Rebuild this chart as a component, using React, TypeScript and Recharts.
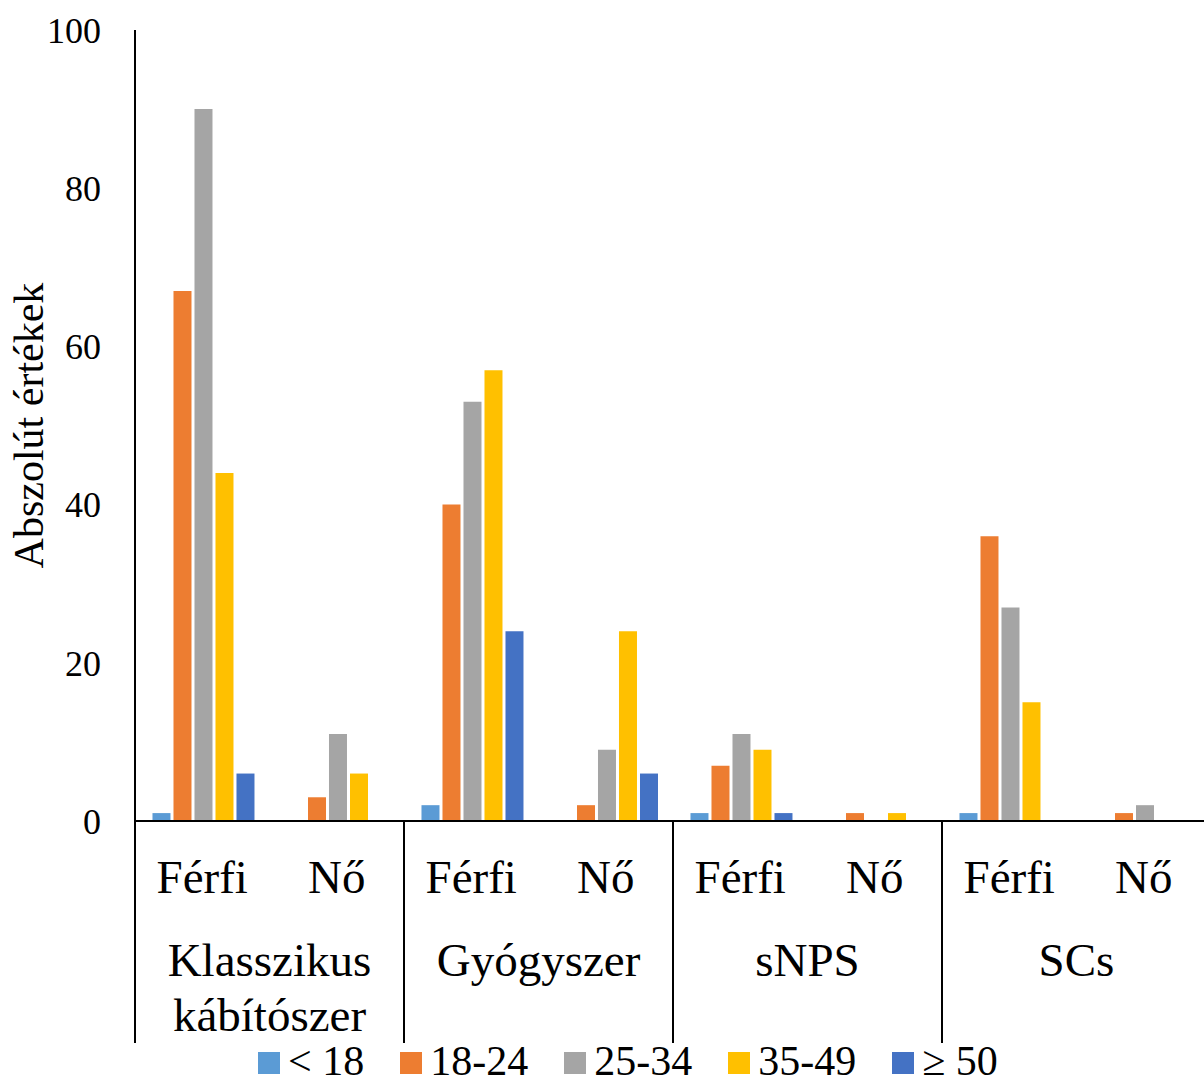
import { BarChart, Bar, XAxis, YAxis, Legend } from 'recharts'

const groups = ['Klasszikus kábítószer', 'Gyógyszer', 'sNPS', 'SCs']
const sexes = ['Férfi', 'Nő']

const seriesNames = ['< 18', '18-24', '25-34', '35-49', '≥ 50']
const seriesColors = ['#5B9BD5', '#ED7D31', '#A5A5A5', '#FFC000', '#4472C4']

// order: Klasszikus F, N, Gyógyszer F, N, sNPS F, N, SCs F, N
const under18 = [1, 0, 2, 0, 1, 0, 1, 0]
const age18to24 = [67, 3, 40, 2, 7, 1, 36, 1]
const age25to34 = [90, 11, 53, 9, 11, 0, 27, 2]
const age35to49 = [44, 6, 57, 24, 9, 1, 15, 0]
const age50plus = [6, 0, 24, 6, 1, 0, 0, 0]

const yTicks = [0, 20, 40, 60, 80, 100]

const seriesValues = [under18, age18to24, age25to34, age35to49, age50plus]
const seriesKeys = ['s0', 's1', 's2', 's3', 's4']

const data = groups.flatMap((group, gi) =>
  sexes.map((sex, si) => {
    const row: Record<string, string | number> = { group, sex }
    seriesKeys.forEach((k, i) => {
      row[k] = seriesValues[i][gi * 2 + si]
    })
    return row
  })
)

const W = 1204
const H = 1083
const PLOT_LEFT = 135
const PLOT_RIGHT = 1211
const PLOT_TOP = 30
const PLOT_BOTTOM = 821
const SEP_BOTTOM = 1043
const GROUP_W = (PLOT_RIGHT - PLOT_LEFT) / groups.length
const FONT = "'Liberation Serif', 'Times New Roman', serif"
const serif = { fontFamily: FONT }

const YTick = (props: any) => {
  const { x, y, payload } = props
  return (
    <text x={x} y={y} dy="0.355em" textAnchor="end" fontSize={36} style={serif} fill="#000">
      {payload.value}
    </text>
  )
}

const SexTick = (props: any) => {
  const { x, payload } = props
  return (
    <text x={x} y={893} textAnchor="middle" fontSize={47} style={serif} fill="#000">
      {payload.value}
    </text>
  )
}

const GroupTick = (props: any) => {
  const { x, payload } = props
  const lines = String(payload.value).split(' ')
  const left = x - GROUP_W / 2
  return (
    <g>
      <line x1={left} x2={left} y1={PLOT_BOTTOM} y2={SEP_BOTTOM} stroke="#000" strokeWidth={2} />
      {lines.map((ln, i) => (
        <text key={i} x={x} y={976 + i * 55} textAnchor="middle" fontSize={47} style={serif} fill="#000">
          {ln}
        </text>
      ))}
    </g>
  )
}

const YLabel = () => (
  <text
    x={29}
    y={(PLOT_TOP + PLOT_BOTTOM) / 2}
    transform={`rotate(-90, 29, ${(PLOT_TOP + PLOT_BOTTOM) / 2})`}
    textAnchor="middle"
    dominantBaseline="central"
    fontSize={42}
    style={serif}
    fill="#000"
  >
    Abszolút értékek
  </text>
)

const renderLegend = () => (
  <div style={{ display: 'flex', alignItems: 'center', fontFamily: FONT, fontSize: 42, lineHeight: '42px', whiteSpace: 'nowrap' }}>
    {seriesNames.map((name, i) => (
      <div key={name} style={{ display: 'flex', alignItems: 'center', marginRight: 36 }}>
        <span style={{ width: 22, height: 22, background: seriesColors[i], display: 'inline-block', marginRight: 8, marginTop: 4 }} />
        <span style={{ color: '#000' }}>{name}</span>
      </div>
    ))}
  </div>
)

export default function App() {
  return (
    <div style={{ position: 'absolute', left: 0, top: 0, width: W, height: H, background: '#fff', overflow: 'hidden', fontFamily: FONT }}>
      <BarChart
        width={W}
        height={H}
        data={data}
        margin={{ top: PLOT_TOP, right: W - PLOT_RIGHT, left: 0, bottom: 0 }}
        barCategoryGap="13%"
        barGap={3}
        style={{ fontFamily: FONT }}
      >
        <XAxis
          dataKey="sex"
          xAxisId={0}
          height={100}
          interval={0}
          tickLine={false}
          axisLine={{ stroke: '#000', strokeWidth: 2 }}
          tick={<SexTick />}
        />
        <XAxis
          dataKey="group"
          xAxisId="grp"
          height={H - PLOT_BOTTOM - 100}
          interval={0}
          allowDuplicatedCategory={false}
          tickLine={false}
          axisLine={false}
          tick={<GroupTick />}
        />
        <YAxis
          width={PLOT_LEFT}
          domain={[0, 100]}
          ticks={yTicks}
          tickLine={false}
          tickSize={0}
          tickMargin={34}
          axisLine={{ stroke: '#000', strokeWidth: 2 }}
          tick={<YTick />}
          label={<YLabel />}
        />
        <Legend
          verticalAlign="middle"
          layout="horizontal"
          content={renderLegend}
          wrapperStyle={{ position: 'absolute', top: 1040, left: 258, width: 900, height: 42 }}
        />
        {seriesKeys.map((k, i) => (
          <Bar key={k} dataKey={k} name={seriesNames[i]} fill={seriesColors[i]} xAxisId={0} isAnimationActive={false} />
        ))}
      </BarChart>
    </div>
  )
}
